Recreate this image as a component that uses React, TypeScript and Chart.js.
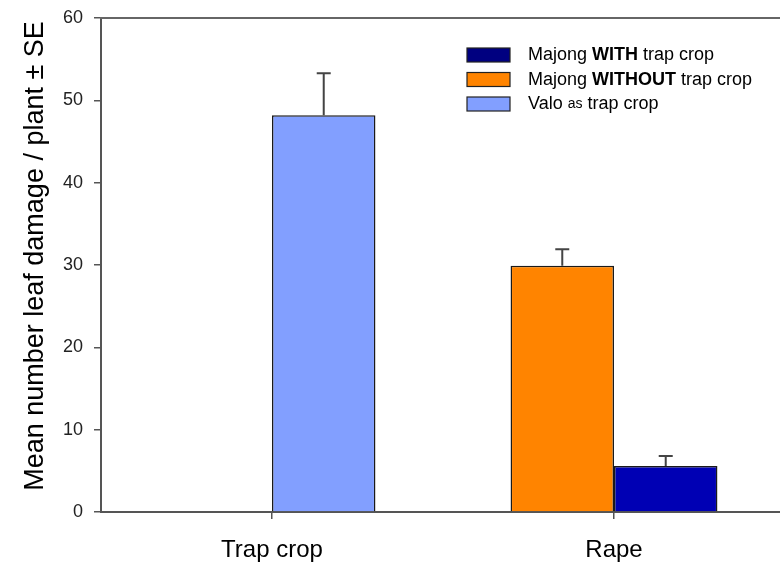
import React, { useEffect, useRef } from 'react';
import { Chart, registerables } from 'chart.js';

Chart.register(...registerables);

// Plot data: mean leaf damage per plant and standard errors
const categories = ['Trap crop', 'Rape'];
const withoutTrapMeans = [null, 29.9];
const withoutTrapSE = [null, 2.0];
const withTrapMeans = [null, 5.6];
const withTrapSE = [null, 1.2];
const valoMeans = [48.2, null];
const valoSE = [5.1, null];
const yTickValues = [0, 10, 20, 30, 40, 50, 60];
const yAxisTitle = 'Mean number leaf damage / plant ± SE';

const FONT = '"Liberation Sans", Arial, Helvetica, sans-serif';

const seriesColors = {
  without: '#FF8400',
  withTrap: '#0000B4',
  valo: '#829FFF',
};

// Legend rows: box colour and text runs (text, weight, size)
const legendRows = [
  {
    color: '#000080',
    runs: [
      ['Majong ', 'normal', 18],
      ['WITH', 'bold', 18],
      [' trap crop', 'normal', 18],
    ],
  },
  {
    color: '#FF8400',
    runs: [
      ['Majong ', 'normal', 18],
      ['WITHOUT', 'bold', 18],
      [' trap crop', 'normal', 18],
    ],
  },
  {
    color: '#829FFF',
    runs: [
      ['Valo ', 'normal', 18],
      ['as', 'normal', 14],
      [' trap crop', 'normal', 18],
    ],
  },
];

const errorBarPlugin = {
  id: 'errorBars',
  afterDatasetsDraw(chart: any) {
    const ctx = chart.ctx;
    const yScale = chart.scales.y;
    ctx.save();
    ctx.strokeStyle = '#444';
    ctx.lineWidth = 2;
    chart.data.datasets.forEach((ds: any, di: number) => {
      const meta = chart.getDatasetMeta(di);
      ds.data.forEach((v: number | null, i: number) => {
        const se = ds.errors[i];
        if (v == null || se == null) return;
        const el = meta.data[i];
        const x = el.x;
        const yTop = yScale.getPixelForValue(v + se);
        ctx.beginPath();
        ctx.moveTo(x, el.y);
        ctx.lineTo(x, yTop);
        ctx.moveTo(x - 7, yTop);
        ctx.lineTo(x + 7, yTop);
        ctx.stroke();
      });
    });
    ctx.restore();
  },
};

// Top edge of the plot frame plus the rotated y-axis title
const frameAndTitlePlugin = {
  id: 'frameAndTitle',
  afterDraw(chart: any) {
    const { ctx, chartArea } = chart;
    ctx.save();
    ctx.strokeStyle = '#666';
    ctx.lineWidth = 2;
    ctx.beginPath();
    ctx.moveTo(chartArea.left - 1, chartArea.top);
    ctx.lineTo(chartArea.right, chartArea.top);
    ctx.stroke();

    ctx.translate(36, (chartArea.top + chartArea.bottom) / 2 - 9);
    ctx.rotate(-Math.PI / 2);
    ctx.fillStyle = '#000';
    ctx.font = `27px ${FONT}`;
    ctx.textAlign = 'center';
    ctx.textBaseline = 'middle';
    ctx.fillText(yAxisTitle, 0, 0);
    ctx.restore();
  },
};

const legendPlugin = {
  id: 'richLegend',
  afterDraw(chart: any) {
    const ctx = chart.ctx;
    const boxX = 467;
    const boxW = 43;
    const boxH = 14;
    const textX = 528;
    const firstTop = 48;
    const rowGap = 24.5;
    ctx.save();
    legendRows.forEach((row, r) => {
      const top = firstTop + r * rowGap;
      ctx.fillStyle = row.color;
      ctx.fillRect(boxX, top, boxW, boxH);
      ctx.strokeStyle = '#222';
      ctx.lineWidth = 1.2;
      ctx.strokeRect(boxX, top, boxW, boxH);
      let x = textX;
      const cy = top + boxH / 2 + 0.5;
      ctx.fillStyle = '#000';
      ctx.textBaseline = 'middle';
      ctx.textAlign = 'left';
      row.runs.forEach(([text, weight, size]) => {
        ctx.font = `${weight} ${size}px ${FONT}`;
        ctx.fillText(text as string, x, cy);
        x += ctx.measureText(text as string).width;
      });
    });
    ctx.restore();
  },
};

export default function App() {
  const canvasRef = useRef<HTMLCanvasElement | null>(null);

  useEffect(() => {
    const canvas = canvasRef.current;
    if (!canvas) return;
    const chart = new Chart(canvas, {
      type: 'bar',
      data: {
        labels: categories,
        datasets: [
          {
            label: 'Majong WITHOUT trap crop',
            data: withoutTrapMeans,
            errors: withoutTrapSE,
            backgroundColor: seriesColors.without,
            stack: 'left',
          } as any,
          {
            label: 'Majong WITH trap crop',
            data: withTrapMeans,
            errors: withTrapSE,
            backgroundColor: seriesColors.withTrap,
            stack: 'right',
          } as any,
          {
            label: 'Valo as trap crop',
            data: valoMeans,
            errors: valoSE,
            backgroundColor: seriesColors.valo,
            stack: 'right',
          } as any,
        ],
      },
      options: {
        animation: false,
        responsive: false,
        devicePixelRatio: 1,
        layout: { padding: { top: 18, right: 5, left: 0, bottom: 0 } },
        datasets: {
          bar: {
            borderColor: '#1a1a1a',
            borderWidth: 1.5,
            barPercentage: 1,
            categoryPercentage: 0.605,
          },
        },
        plugins: {
          legend: { display: false },
          tooltip: { enabled: false },
        },
        scales: {
          x: {
            stacked: true,
            grid: {
              offset: false,
              drawOnChartArea: false,
              drawTicks: true,
              tickLength: 7,
              color: '#555',
              lineWidth: 1.5,
            },
            border: { color: '#555', width: 2 },
            ticks: {
              color: '#000',
              padding: 17,
              font: { family: FONT, size: 24 },
            },
            afterFit(scale: any) {
              scale.height = 58;
              scale.paddingLeft = 0;
              scale.paddingRight = 0;
            },
          },
          y: {
            stacked: true,
            min: 0,
            max: 60,
            afterBuildTicks(scale: any) {
              scale.ticks = yTickValues.map((v) => ({ value: v }));
            },
            grid: {
              drawOnChartArea: false,
              drawTicks: true,
              tickLength: 7,
              color: '#555',
              lineWidth: 1.5,
            },
            border: { color: '#555', width: 2 },
            ticks: {
              color: '#222',
              padding: 11,
              font: { family: FONT, size: 18 },
            },
            afterFit(scale: any) {
              scale.width = 101;
              scale.paddingTop = 0;
              scale.paddingBottom = 0;
            },
          },
        },
      },
      plugins: [errorBarPlugin, frameAndTitlePlugin, legendPlugin],
    } as any);
    return () => chart.destroy();
  }, []);

  return (
    <div
      style={{
        position: 'absolute',
        left: 0,
        top: 0,
        width: 780,
        height: 570,
        overflow: 'hidden',
        background: '#fff',
      }}
    >
      <canvas ref={canvasRef} width={790} height={570} style={{ display: 'block' }} />
    </div>
  );
}
